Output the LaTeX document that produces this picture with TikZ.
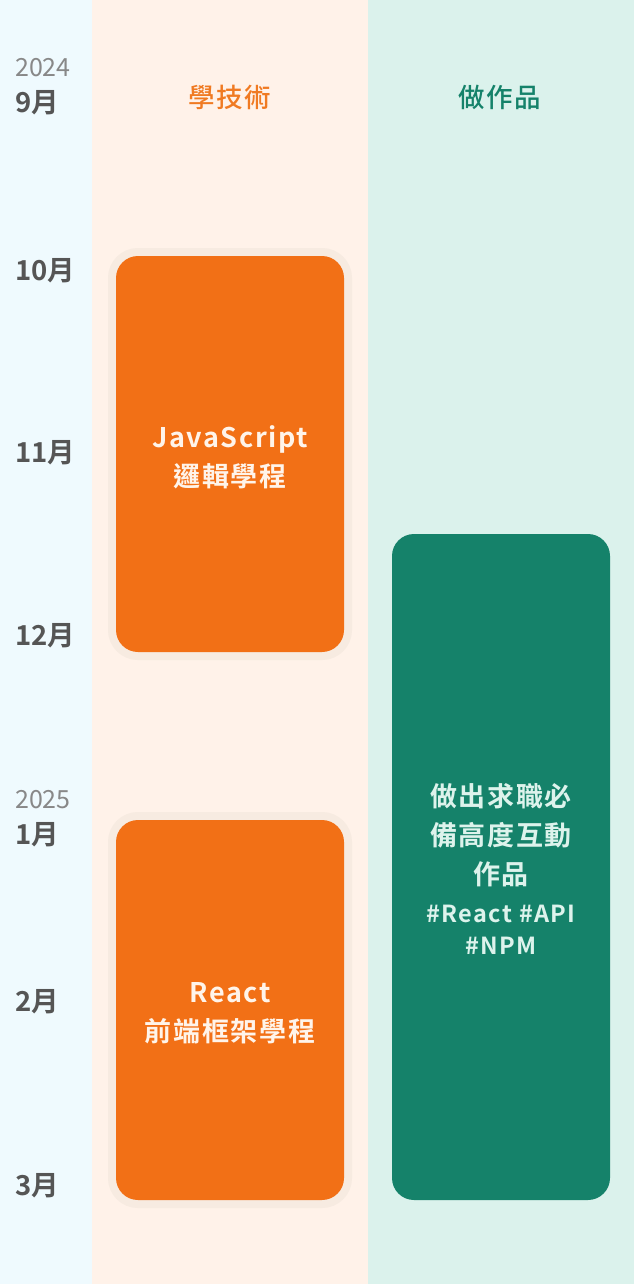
\documentclass[tikz,border=0pt]{standalone}
\usepackage{fontspec}
\setmainfont{Noto Sans CJK TC}[BoldFont={Noto Sans CJK TC Bold}]
\newfontfamily\boxfont[LetterSpace=6]{Noto Sans CJK TC Bold}
\newfontfamily\headfont[LetterSpace=6]{Noto Sans CJK TC Medium}
\definecolor{bgblue}{HTML}{EFFAFE}
\definecolor{bgpeach}{HTML}{FFF2E9}
\definecolor{bggreen}{HTML}{DBF2EC}
\definecolor{orangebox}{HTML}{F27016}
\definecolor{halo}{HTML}{F7EBE1}
\definecolor{greenbox}{HTML}{15826A}
\definecolor{orangetxt}{HTML}{FFF4EA}
\definecolor{greentxt}{HTML}{DDF3EC}
\definecolor{headorange}{HTML}{F07A22}
\definecolor{monthgray}{HTML}{555555}
\definecolor{yeargray}{HTML}{888888}
\tikzset{
  month/.style={anchor=west, inner sep=0pt, text=monthgray, font=\bfseries\fontsize{27.5pt}{30pt}\selectfont},
  year/.style={anchor=west, inner sep=0pt, text=yeargray, font=\fontsize{25pt}{28pt}\selectfont},
  header/.style={inner sep=0pt, font=\headfont\fontsize{26.5pt}{30pt}\selectfont},
  orangecard/.style={rectangle, rounded corners=22pt, fill=orangebox, minimum width=228pt,
    preaction={draw=halo, line width=16pt, rounded corners=22pt}, inner sep=0pt},
  greencard/.style={rectangle, rounded corners=22pt, fill=greenbox, minimum width=218pt, inner sep=0pt},
  cardtext/.style={align=center, inner sep=0pt, font=\boxfont\fontsize{27pt}{39pt}\selectfont},
}
\begin{document}
\begin{tikzpicture}[x=1pt,y=-1pt]
\useasboundingbox (0,0) rectangle (634,1284);
\fill[bgblue] (0,0) rectangle (92,1284);
\fill[bgpeach] (92,0) rectangle (368,1284);
\fill[bggreen] (368,0) rectangle (634,1284);

\node[header, text=headorange] (h1) at (230,97) {學技術};
\node[header, text=greenbox] (h2) at (500,97) {做作品};

\node[year] (y24) at (15,68) {2024};
\node[month] (m9) at (15,103) {9月};
\node[month] (m10) at (15,271) {10月};
\node[month] (m11) at (15,453) {11月};
\node[month] (m12) at (15,636) {12月};
\node[year] (y25) at (15,800) {2025};
\node[month] (m1) at (15,835) {1月};
\node[month] (m2) at (15,1002) {2月};
\node[month] (m3) at (15,1186) {3月};

\node[orangecard, minimum height=396pt] (js) at (230,454) {};
\node[cardtext, text=orangetxt] (jst) at (230,457) {JavaScript\\邏輯學程};
\node[orangecard, minimum height=380pt] (react) at (230,1010) {};
\node[cardtext, text=orangetxt] (reactt) at (230,1013) {React\\前端框架學程};
\node[greencard, minimum height=666pt] (work) at (501,867) {};
\node[cardtext, text=greentxt] (workt) at (501,869) {做出求職必\\備高度互動\\作品\\[-1pt]{\fontsize{23.5pt}{32pt}\selectfont \#React \#API}\\[-7pt]{\fontsize{23.5pt}{32pt}\selectfont \#NPM}};
\end{tikzpicture}
\end{document}
